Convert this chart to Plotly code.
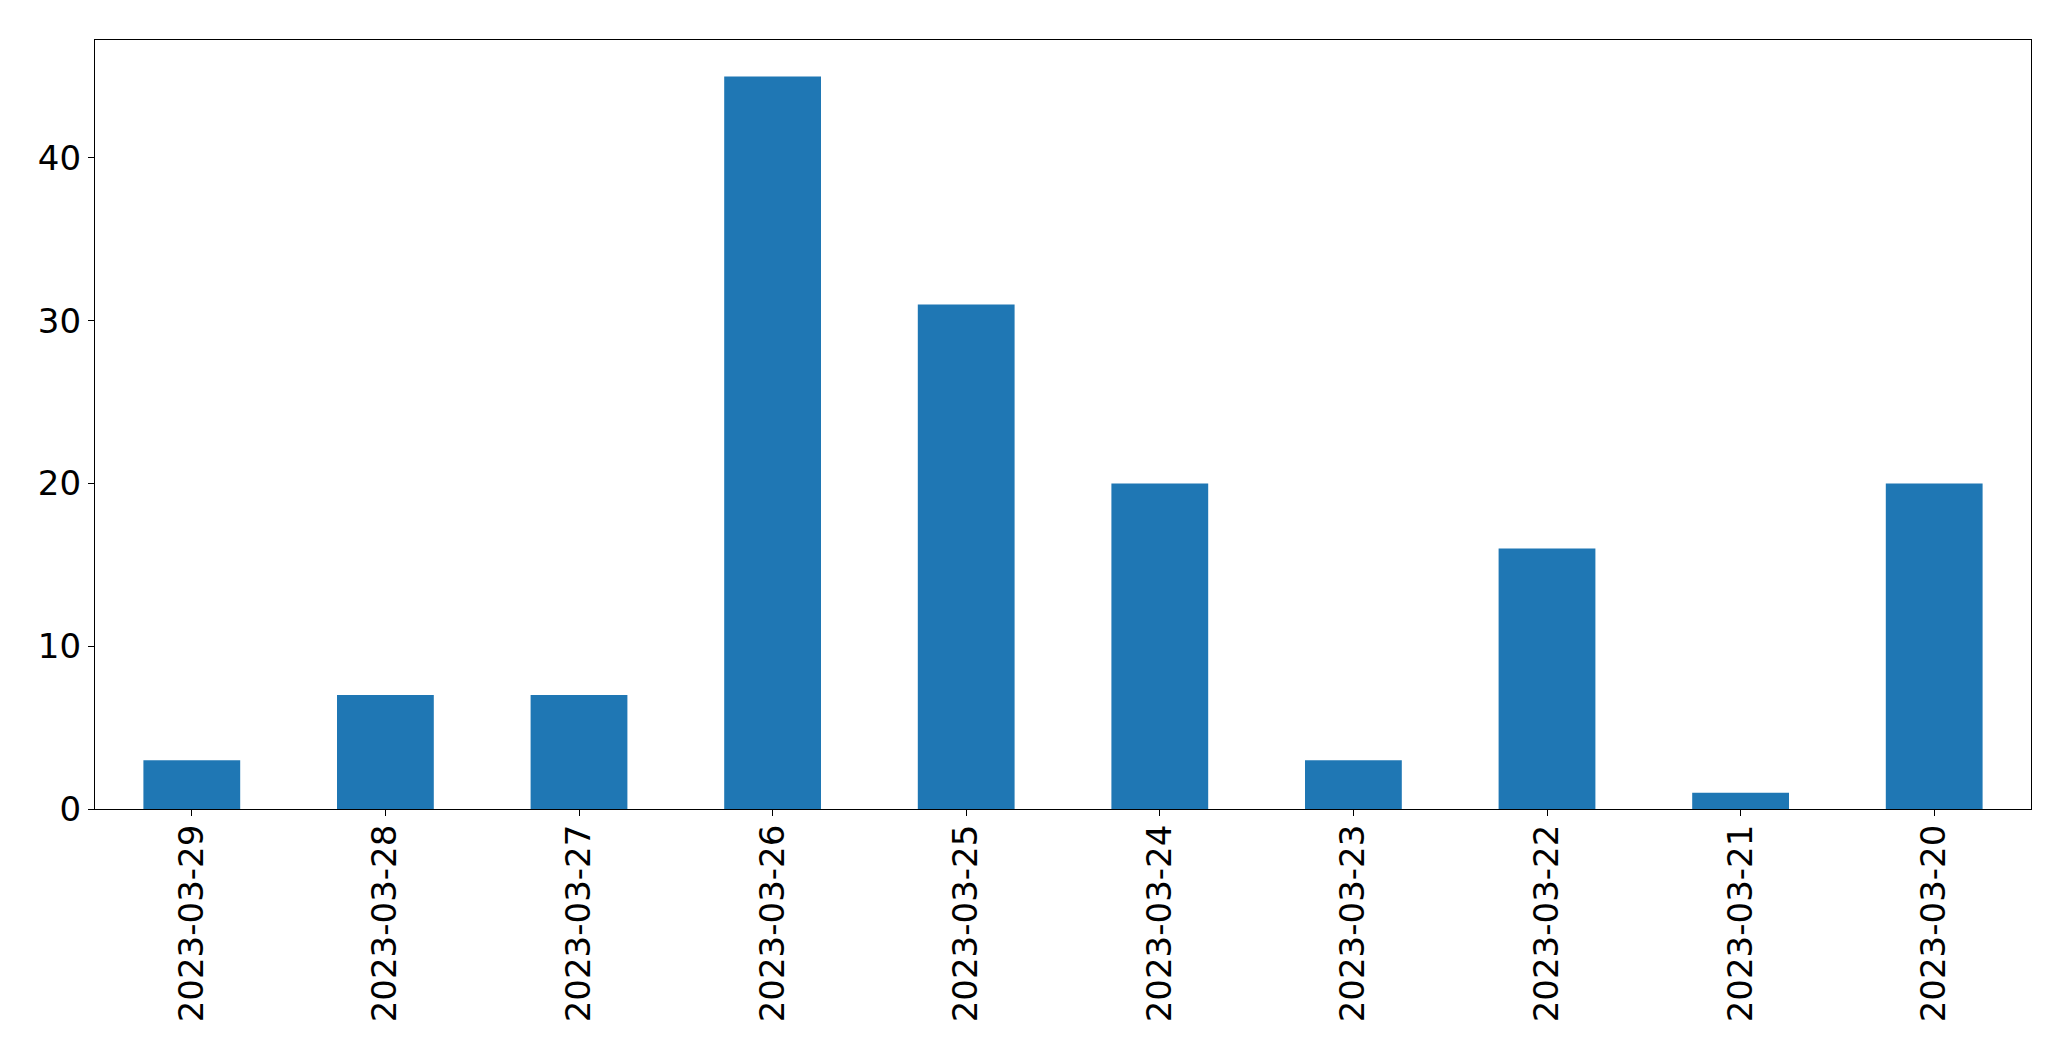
import plotly.graph_objects as go

dates = ["2023-03-29", "2023-03-28", "2023-03-27", "2023-03-26", "2023-03-25",
         "2023-03-24", "2023-03-23", "2023-03-22", "2023-03-21", "2023-03-20"]
counts = [3, 7, 7, 45, 31, 20, 3, 16, 1, 20]
y_ticks = [0, 10, 20, 30, 40]

fig = go.Figure(go.Bar(x=list(range(len(dates))), y=counts, width=0.5,
                       marker=dict(color="#1f77b4", line=dict(width=0))))

font = dict(family="DejaVu Sans", size=34, color="black")
fig.update_layout(
    width=2071, height=1061,
    margin=dict(l=94.5, r=39.5, t=39.5, b=252, autoexpand=False),
    paper_bgcolor="white", plot_bgcolor="white",
    showlegend=False, font=font,
)
fig.update_xaxes(
    range=[-0.5, len(dates) - 0.5], tickmode="array",
    tickvals=list(range(len(dates))), ticktext=dates, tickangle=-90,
    showgrid=False, zeroline=False, showline=True, mirror=True,
    linecolor="black", linewidth=1.2, ticks="outside", ticklen=6,
    tickwidth=1.2, tickcolor="black", tickfont=font, automargin=False,
    ticklabelstandoff=-5,
)
fig.update_yaxes(
    range=[0, max(counts) * 1.05], tickmode="array", tickvals=y_ticks,
    showgrid=False, zeroline=False, showline=True, mirror=True,
    linecolor="black", linewidth=1.2, ticks="outside", ticklen=6,
    tickwidth=1.2, tickcolor="black", tickfont=font, automargin=False,
    ticklabelstandoff=0,
)
fig.write_html("out.html", config={"displayModeBar": False},
               post_script="document.body.style.margin='0';")
